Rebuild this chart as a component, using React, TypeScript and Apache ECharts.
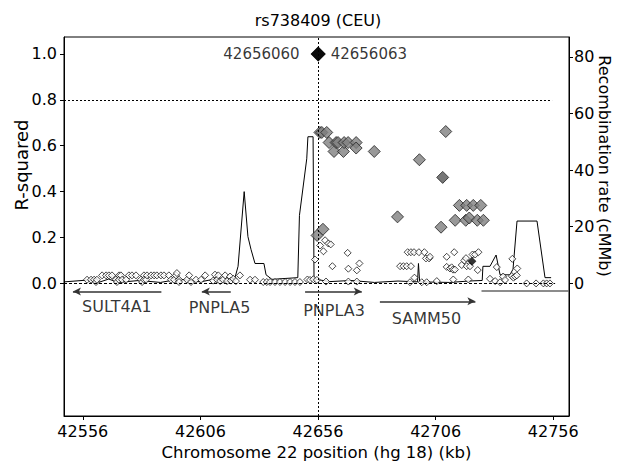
import React, { useEffect, useRef } from "react";
import * as echarts from "echarts";

const FONT = '"DejaVu Sans", Verdana, sans-serif';

const xTicks = [42556, 42606, 42656, 42706, 42756];
const r2Ticks = [0, 0.2, 0.4, 0.6, 0.8, 1.0];
const rateTicks = [0, 20, 40, 60, 80];

// [position kb, r-squared]
const lowSnps: [number, number][] = [
  [42557.8, 0.016], [42559.5, 0.016], [42560.8, 0.016], [42561.6, 0.006], [42562.0, 0.016],
  [42564.2, 0.035], [42565.9, 0.035], [42567.1, 0.035], [42568.4, 0.035], [42570.1, 0.016],
  [42570.5, 0.006], [42571.4, 0.035], [42571.4, 0.016], [42572.2, 0.035], [42572.7, 0.016],
  [42574.4, 0.016], [42575.6, 0.035], [42576.9, 0.035], [42578.6, 0.035], [42580.7, 0.016],
  [42581.2, 0.006], [42582.0, 0.035], [42582.0, 0.016], [42582.9, 0.016], [42583.3, 0.035],
  [42585.0, 0.035], [42586.3, 0.035], [42587.5, 0.035], [42589.2, 0.035], [42590.5, 0.035],
  [42592.6, 0.035], [42593.5, 0.016], [42594.8, 0.016], [42595.6, 0.035], [42596.0, 0.045],
  [42596.9, 0.016], [42596.9, 0.006], [42600.3, 0.016], [42601.2, 0.035], [42602.0, 0.006],
  [42604.1, 0.016], [42606.3, 0.016], [42608.0, 0.035], [42611.4, 0.012], [42612.2, 0.038],
  [42613.1, 0.016], [42613.6, 0.035], [42614.4, 0.01], [42615.6, 0.016], [42616.5, 0.035],
  [42617.3, 0.01], [42618.6, 0.03], [42619.0, 0.012], [42620.0, 0.02], [42621.1, 0.01],
  [42622.8, 0.035], [42627.1, 0.016], [42629.2, 0.016], [42632.7, 0.006], [42634.2, 0.006],
  [42635.6, 0.006], [42637.7, 0.006], [42639.8, 0.006], [42642.0, 0.006], [42644.1, 0.006],
  [42646.2, 0.006], [42648.3, 0.006], [42651.5, 0.017], [42652.6, 0.015], [42654.0, 0.018],
  [42654.7, 0.104], [42655.5, 0.015], [42656.9, 0.165], [42658.3, 0.14], [42659.0, 0.188],
  [42659.4, 0.008], [42660.4, 0.174], [42661.4, 0.17], [42662.1, 0.075], [42668.6, 0.133],
  [42668.9, 0.064], [42668.9, 0.008], [42672.5, 0.057], [42672.5, 0.008], [42673.6, 0.087],
  [42690.9, 0.075], [42692.3, 0.075], [42693.7, 0.075], [42694.1, 0.136], [42695.1, 0.005],
  [42695.5, 0.136], [42695.5, 0.075], [42696.8, 0.136], [42697.0, 0.025], [42698.9, 0.136],
  [42700.1, 0.005], [42701.2, 0.136], [42701.9, 0.109], [42702.2, 0.005], [42703.2, 0.109],
  [42703.6, 0.116], [42706.5, 0.01], [42710.7, 0.116], [42710.7, 0.072], [42712.1, 0.065],
  [42712.8, 0.07], [42713.4, 0.06], [42713.5, 0.017], [42713.9, 0.136], [42714.2, 0.06],
  [42717.1, 0.08], [42718.2, 0.1], [42718.9, 0.11], [42719.2, 0.075], [42719.9, 0.017],
  [42720.6, 0.075], [42721.7, 0.126], [42722.8, 0.126], [42723.9, 0.058], [42724.2, 0.136],
  [42729.1, 0.02], [42731.3, 0.01], [42732.0, 0.071], [42733.4, 0.005], [42734.7, 0.03],
  [42735.5, 0.015], [42738.4, 0.032], [42738.6, 0.107], [42739.1, 0.025], [42739.8, 0.03],
  [42740.5, 0.035], [42740.7, 0.065], [42744.7, 0.0], [42748.7, 0.0], [42751.8, 0.0],
  [42753.2, 0.0], [42754.6, 0.0],
];

const midSnps: [number, number][] = [
  [42655.6, 0.209], [42656.8, 0.658], [42657.6, 0.658], [42658.1, 0.236], [42659.7, 0.658],
  [42660.7, 0.614], [42662.8, 0.575], [42663.7, 0.614], [42664.5, 0.614], [42666.8, 0.575],
  [42667.1, 0.614], [42668.8, 0.614], [42672.2, 0.614], [42672.2, 0.59], [42679.9, 0.575],
  [42689.8, 0.29], [42699.1, 0.539], [42708.3, 0.245], [42710.3, 0.662], [42714.3, 0.275],
  [42716.1, 0.34], [42718.8, 0.275], [42719.2, 0.34], [42720.3, 0.285], [42722.0, 0.34],
  [42723.7, 0.275], [42725.2, 0.34], [42726.3, 0.275],
];

const darkSnps: [number, number][] = [[42709.0, 0.462]];
const blackSnps: [number, number][] = [[42721.4, 0.097]];

const topSnpPositions = [42656.06, 42656.063];
const topSnpNames = ["42656060", "42656063"];
const topSnpR2 = 1.0;

// [position kb, recombination rate cM/Mb]
const recombRate: [number, number][] = [
  [42548, 0.5], [42559, 1.2], [42563, 0.4], [42567, 1.5], [42571, 0.3], [42580, 1.0],
  [42589, 0.3], [42597, 1.5], [42606, 0.5], [42612, 1.5], [42617, 0.5], [42620.7, 2],
  [42622.0, 6], [42624.6, 32.4], [42626.2, 16.5], [42627.5, 12], [42629.2, 7], [42633.0, 7],
  [42633.9, 3], [42636.4, 1.4], [42647.4, 2], [42648.1, 24], [42651.2, 44], [42651.7, 51.8],
  [42653.9, 51.8], [42654.3, 1.5], [42661, 0.6], [42670, 1.0], [42680, 0.3], [42690, 0.8],
  [42698.3, 0.5], [42698.7, 7], [42699.2, 0.5], [42712, 0.3], [42720, 0.8], [42725.8, 1],
  [42726.1, 6], [42729.1, 6], [42731.7, 10], [42733.4, 3], [42737.6, 3], [42738.9, 5],
  [42740.6, 22], [42749.1, 22], [42752.5, 2], [42755.1, 2],
];

// genes: name, start, end, track level (r2 units), arrow direction
const geneNames = ["SULT4A1", "PNPLA5", "PNPLA3", "SAMM50", ""];
const geneStart = [42551.8, 42606.6, 42650.5, 42682.3, 42725.5];
const geneEnd = [42589.4, 42618.9, 42674.6, 42722.9, 42762.7];
const geneLevel = [-0.035, -0.035, -0.035, -0.078, -0.03];
const geneDir = ["left", "left", "right", "right", "none"];
const geneLabelX = [42570.5, 42614.1, 42662.8, 42702.1];
const geneLabelY = [-0.1, -0.104, -0.117, -0.152];

const leadPosition = 42656;
const thresholdR2 = 0.8;

export default function App() {
  const ref = useRef<HTMLDivElement>(null);

  useEffect(() => {
    const chart = echarts.init(ref.current!, null, { renderer: "svg" });

    const geneLines = geneNames.map((_, i) => [
      {
        coord: [geneStart[i], geneLevel[i]],
        symbol: geneDir[i] === "left" ? "arrow" : "none",
        symbolSize: [6, 8],
        lineStyle: { color: i === 4 ? "#666" : "#333", width: 1.5, type: "solid" },
      },
      {
        coord: [geneEnd[i], geneLevel[i]],
        symbol: geneDir[i] === "right" ? "arrow" : "none",
        symbolSize: [6, 8],
      },
    ]);

    const textStyle = { fontFamily: FONT, color: "#000" };

    chart.setOption({
      animation: false,
      backgroundColor: "#fff",
      textStyle: { fontFamily: FONT },
      grid: {
        left: 64,
        right: 57,
        top: 37,
        bottom: 49,
        show: true,
        borderColor: "#000",
        borderWidth: 1,
      },
      xAxis: {
        type: "value",
        min: 42548,
        max: 42762.7,
        axisLine: { show: true, onZero: false, lineStyle: { color: "#000", width: 1 } },
        axisTick: { show: true, customValues: xTicks, length: 4, lineStyle: { color: "#000" } },
        axisLabel: {
          customValues: xTicks,
          fontSize: 16,
          margin: 7,
          formatter: (v: number) => String(Math.round(v)),
          ...textStyle,
        },
        splitLine: { show: false },
        name: "Chromosome 22 position (hg 18) (kb)",
        nameLocation: "middle",
        nameGap: 28,
        nameTextStyle: { fontSize: 16.5, ...textStyle },
      },
      yAxis: [
        {
          type: "value",
          min: -0.578,
          max: 1.074,
          axisLine: { show: true, onZero: false, lineStyle: { color: "#000" } },
          axisTick: { show: true, customValues: r2Ticks, length: 4, lineStyle: { color: "#000" } },
          axisLabel: {
            customValues: r2Ticks,
            fontSize: 16,
            margin: 7,
            formatter: (v: number) => v.toFixed(1),
            ...textStyle,
          },
          splitLine: { show: false },
        },
        {
          type: "value",
          position: "right",
          min: -46.9,
          max: 87.05,
          axisLine: { show: true, onZero: false, lineStyle: { color: "#000" } },
          axisTick: { show: true, customValues: rateTicks, length: 4, lineStyle: { color: "#000" } },
          axisLabel: {
            customValues: rateTicks,
            fontSize: 16,
            margin: 5,
            formatter: (v: number) => String(Math.round(v)),
            ...textStyle,
          },
          splitLine: { show: false },
        },
      ],
      graphic: [
        {
          type: "text",
          x: 318,
          y: 20,
          style: {
            text: "rs738409 (CEU)",
            font: `16px ${FONT}`,
            fill: "#000",
            align: "center",
            verticalAlign: "middle",
            textAlign: "center",
            textVerticalAlign: "middle",
          },
        },
        {
          type: "text",
          x: 21,
          y: 165,
          rotation: Math.PI / 2,
          style: {
            text: "R-squared",
            font: `18px ${FONT}`,
            fill: "#000",
            align: "center",
            verticalAlign: "middle",
            textAlign: "center",
            textVerticalAlign: "middle",
          },
        },
        {
          type: "text",
          x: 604,
          y: 166,
          rotation: -Math.PI / 2,
          style: {
            text: "Recombination rate (cMMb)",
            font: `16px ${FONT}`,
            fill: "#000",
            align: "center",
            verticalAlign: "middle",
            textAlign: "center",
            textVerticalAlign: "middle",
          },
        },
      ],
      series: [
        {
          type: "line",
          name: "recombination",
          yAxisIndex: 1,
          data: recombRate,
          showSymbol: false,
          symbol: "none",
          lineStyle: { color: "#000", width: 1 },
          silent: true,
          z: 2,
        },
        {
          type: "scatter",
          name: "low",
          data: lowSnps,
          symbol: "diamond",
          symbolSize: 7,
          itemStyle: { color: "#fff", borderColor: "#000", borderWidth: 0.9 },
          silent: true,
          z: 3,
          markLine: {
            silent: true,
            symbol: ["none", "none"],
            label: { show: false },
            emphasis: { disabled: true },
            data: [
              [
                { coord: [42548, thresholdR2], lineStyle: { color: "#000", width: 1, type: [2, 2] } },
                { coord: [42755.5, thresholdR2] },
              ],
              [
                { coord: [42548, 0], lineStyle: { color: "#000", width: 1, type: [3, 2] } },
                { coord: [42756.8, 0] },
              ],
              { xAxis: leadPosition, lineStyle: { color: "#000", width: 1, type: [2, 2] } },
              ...geneLines,
            ],
          },
        },
        {
          type: "scatter",
          name: "mid",
          data: midSnps,
          symbol: "diamond",
          symbolSize: 12,
          itemStyle: { color: "#7f7f7f", borderColor: "#222", borderWidth: 1 },
          silent: true,
          z: 4,
        },
        {
          type: "scatter",
          name: "dark",
          data: darkSnps,
          symbol: "diamond",
          symbolSize: 12,
          itemStyle: { color: "#555", borderColor: "#222", borderWidth: 1 },
          silent: true,
          z: 4,
        },
        {
          type: "scatter",
          name: "black",
          data: blackSnps,
          symbol: "diamond",
          symbolSize: 9,
          itemStyle: { color: "#000" },
          silent: true,
          z: 5,
        },
        {
          type: "scatter",
          name: "lead",
          data: topSnpPositions.map((p, i) => ({
            value: [p, topSnpR2],
            name: topSnpNames[i],
            label: {
              show: true,
              position: i === 0 ? "left" : "right",
              distance: i === 0 ? 11 : 5,
              formatter: "{b}",
              fontSize: 15,
              ...textStyle,
            },
          })),
          symbol: "diamond",
          symbolSize: 15,
          itemStyle: { color: "#000" },
          silent: true,
          z: 6,
        },
        {
          type: "scatter",
          name: "genes",
          data: geneLabelX.map((x, i) => ({ value: [x, geneLabelY[i]], name: geneNames[i] })),
          symbolSize: 1,
          itemStyle: { color: "transparent" },
          label: {
            show: true,
            position: "inside",
            formatter: "{b}",
            fontSize: 16,
            ...textStyle,
          },
          silent: true,
          z: 6,
        },
      ],
    });

    return () => chart.dispose();
  }, []);

  return (
    <div
      ref={ref}
      style={{ position: "fixed", left: 0, top: 0, width: 626, height: 466, background: "#fff" }}
    />
  );
}
